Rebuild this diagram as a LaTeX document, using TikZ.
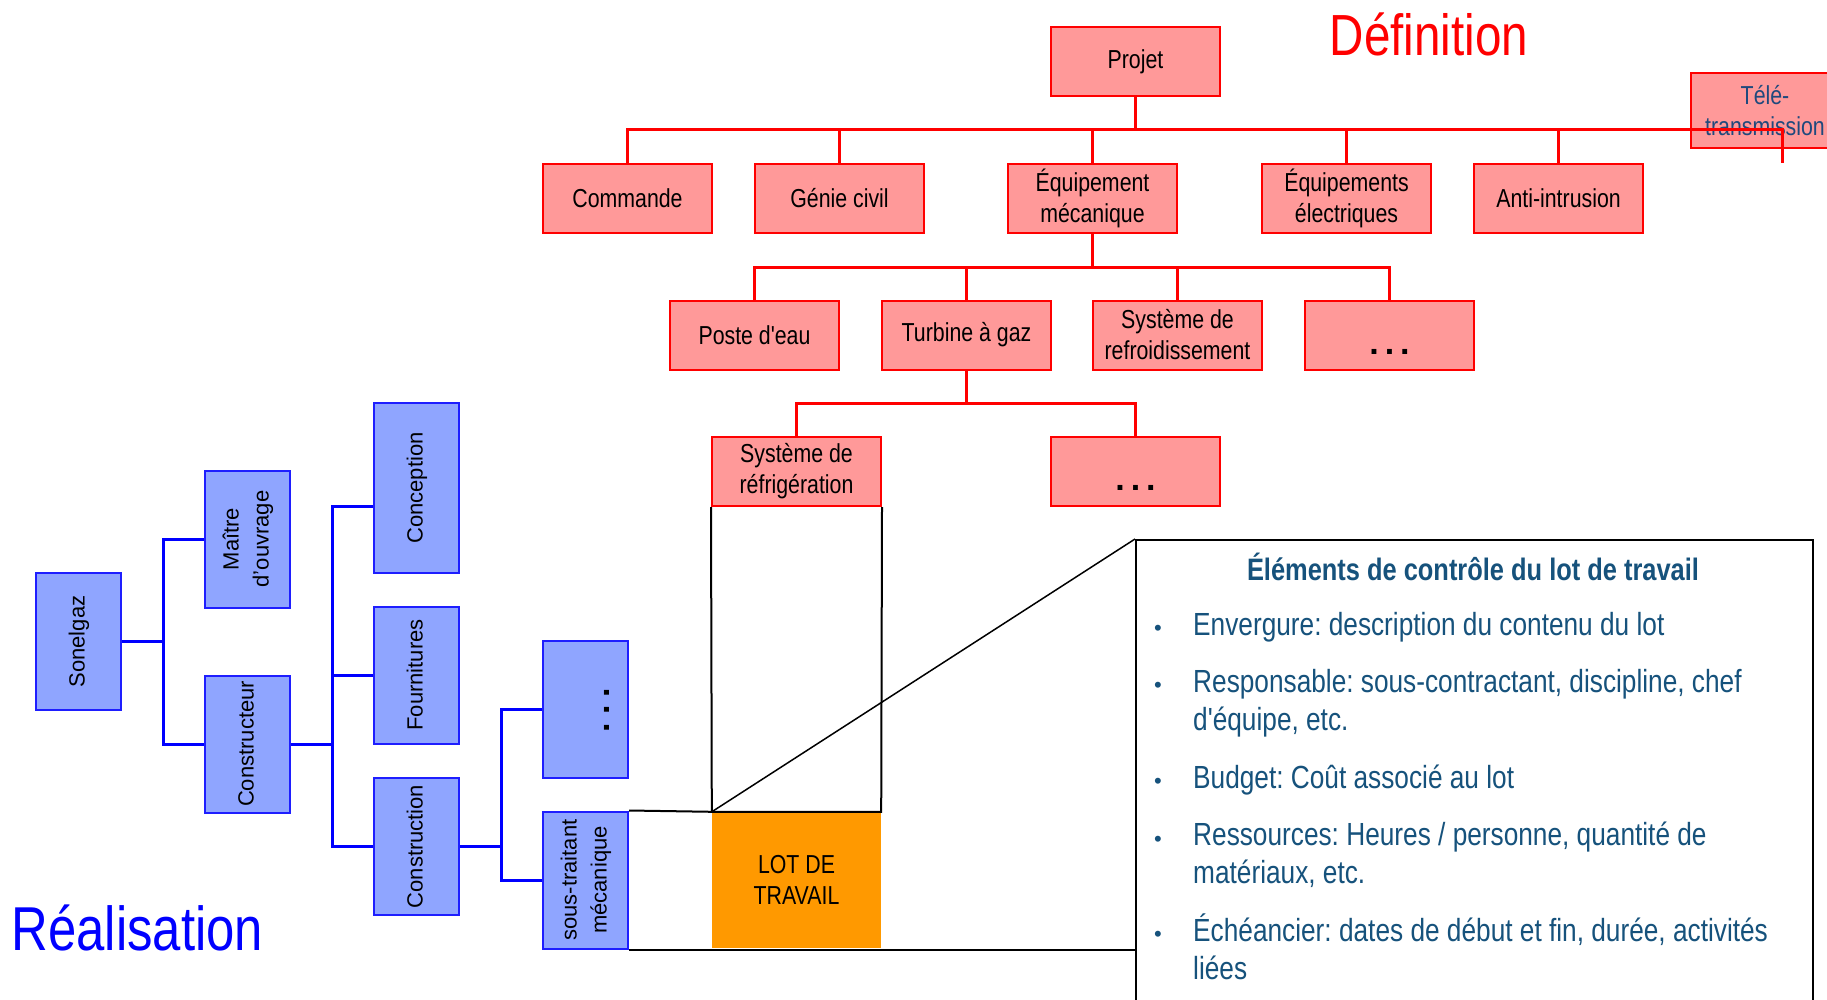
\documentclass[tikz,border=0pt]{standalone}
\usepackage{fontspec}
\usepackage{graphicx}
\setmainfont{Liberation Sans}
\newfontfamily\nar[FakeStretch=0.82]{Liberation Sans}
\frenchspacing
\definecolor{redfill}{RGB}{255,153,153}
\definecolor{bluefill}{RGB}{143,165,255}
\definecolor{bborder}{RGB}{30,30,255}
\definecolor{teleblue}{RGB}{31,73,125}
\definecolor{infoc}{RGB}{22,82,124}
\definecolor{orangefill}{RGB}{255,153,0}
\newcommand{\rottext}[1]{\rotatebox{90}{\begin{tabular}{@{}c@{}}#1\end{tabular}}}
\tikzset{
  rbox/.style={draw=red, fill=redfill, line width=2pt, minimum width=169pt, minimum height=69pt,
    inner sep=0pt, align=center, font=\nar\fontsize{26}{31}\selectfont},
  bbox/.style={draw=bborder, fill=bluefill, line width=2pt, minimum width=85pt, minimum height=137pt,
    inner sep=0pt, font=\fontsize{22}{30}\selectfont},
  rline/.style={draw=red, line width=3pt},
  bline/.style={draw=blue, line width=3pt},
  kline/.style={draw=black, line width=2pt},
  dotsr/.style={inner sep=0pt, font=\bfseries\fontsize{34}{34}\selectfont},
  item/.style={anchor=base west, inner sep=0pt, align=left, text=infoc, font=\nar\fontsize{32}{38}\selectfont},
  bul/.style={anchor=base, inner sep=0pt, text=infoc, font=\fontsize{22}{38}\selectfont},
}
\begin{document}
\begin{tikzpicture}[x=1pt,y=-1pt]
\useasboundingbox (0,0) rectangle (1827,1000);
\fill[white] (0,0) rectangle (1827,1000);
\clip (0,0) rectangle (1827,1000);

% ---- red tree (Définition)
\node[rbox] (projet) at (1135.5,62) {Projet};
\node[rbox, minimum width=148pt, minimum height=75pt, text=teleblue] (tele) at (1765,110.5) {Télé-\\transmission};
\node[rbox] (commande) at (627.5,198.5) {Commande};
\node[rbox] (genie) at (839.5,198.5) {Génie civil};
\node[rbox] (equipm) at (1092.5,198.5) {Équipement\\mécanique};
\node[rbox] (equipe) at (1346.5,198.5) {Équipements\\électriques};
\node[rbox] (anti) at (1558.5,198.5) {Anti-intrusion};

\node[rbox] (poste) at (754.5,335) {Poste d'eau};
\node[rbox] (turbine) at (966.5,335) {Turbine à gaz};
\node[rbox] (refroid) at (1177.5,335) {Système de\\refroidissement};
\node[rbox] (dotsa) at (1389.5,335) {};
\node[dotsr] (dotsatext) at (1389.5,352) {.\hspace{6pt}.\hspace{6pt}.};

\node[rbox] (refrig) at (796.5,471.5) {Système de\\réfrigération};
\node[rbox] (dotsb) at (1135.5,471.5) {};
\node[dotsr] (dotsbtext) at (1135.5,488) {.\hspace{6pt}.\hspace{6pt}.};

\coordinate (bar1) at (0,130);
\coordinate (bar2) at (0,267);
\coordinate (bar3) at (0,403);
\coordinate (telecon) at (1782,163);
\draw[rline] (commande.north) |- (telecon |- bar1) -- (telecon);
\draw[rline] (projet.south) -- (projet.south |- bar1);
\draw[rline] (genie.north) -- (genie.north |- bar1);
\draw[rline] (equipm.north) -- (equipm.north |- bar1);
\draw[rline] (equipe.north) -- (equipe.north |- bar1);
\draw[rline] (anti.north) -- (anti.north |- bar1);

\draw[rline] (poste.north) |- (dotsa.north |- bar2) -- (dotsa.north);
\draw[rline] (equipm.south) -- (equipm.south |- bar2);
\draw[rline] (turbine.north) -- (turbine.north |- bar2);
\draw[rline] (refroid.north) -- (refroid.north |- bar2);

\draw[rline] (refrig.north) |- (dotsb.north |- bar3) -- (dotsb.north);
\draw[rline] (turbine.south) -- (turbine.south |- bar3);

% ---- blue tree (Réalisation)
\node[bbox] (sonel) at (78.5,641.5) {\rottext{Sonelgaz}};
\node[bbox] (maitre) at (247.5,539) {\rottext{Maître\\d'ouvrage}};
\node[bbox] (constr) at (247.5,744) {\rottext{Constructeur}};
\node[bbox, minimum height=170pt] (concep) at (416.5,488) {\rottext{Conception}};
\node[bbox] (fourn) at (416.5,675) {\rottext{Fournitures}};
\node[bbox] (constn) at (416.5,846.5) {\rottext{Construction}};
\node[bbox] (bdots) at (585.5,709) {};
\node[dotsr] (bdotstext) at (607,710) {\rotatebox{90}{.\hspace{8pt}.\hspace{8pt}.}};
\node[bbox] (sous) at (585.5,880) {\rottext{sous-traitant\\mécanique}};

\coordinate (j1) at (163,641.5);
\coordinate (j2) at (332,744);
\coordinate (j3) at (501,846.5);
\draw[bline] (sonel.east) -- (j1);
\draw[bline] (maitre.west) -| (j1) |- (constr.west);
\draw[bline] (constr.east) -- (j2);
\draw[bline] ([yshift=-18pt]concep.west) -| (j2) |- (constn.west);
\draw[bline] (fourn.west) -- (fourn.west -| j2);
\draw[bline] (constn.east) -- (j3);
\draw[bline] (bdots.west) -| (j3) |- (sous.west);

% ---- work package and info box
\node[draw=black, line width=2pt, minimum width=677pt, minimum height=480pt, anchor=north west, inner sep=0pt] (info) at (1135,539) {};
\draw[kline] (sous.south east) -- (sous.south east -| info.west);
\node[fill=orangefill, minimum width=169pt, minimum height=136pt, inner sep=0pt, align=center,
  font=\nar\fontsize{26}{31}\selectfont] (lot) at (796.5,880) {LOT DE\\TRAVAIL};
\draw[kline] (sous.north east) -- (lot.north west);
\draw[kline] (refrig.south west) -- (lot.north west) -- (lot.north east) -- (refrig.south east);
\draw[kline, line width=1.5pt] (lot.north west) -- (info.north west);

\node[anchor=base, inner sep=0pt, text=infoc, font=\nar\bfseries\fontsize{31}{38}\selectfont] (infotitle) at (1473,580) {Éléments de contrôle du lot de travail};
\node[bul] (b1) at (1158,635) {•};
\node[item] (i1) at (1193,635) {Envergure: description du contenu du lot};
\node[bul] (b2) at (1158,692) {•};
\node[item] (i2) at (1193,730) {Responsable: sous-contractant, discipline, chef\\d'équipe, etc.};
\node[bul] (b3) at (1158,788) {•};
\node[item] (i3) at (1193,788) {Budget: Coût associé au lot};
\node[bul] (b4) at (1158,846) {•};
\node[item] (i4) at (1193,883) {Ressources: Heures / personne, quantité de\\matériaux, etc.};
\node[bul] (b5) at (1158,941) {•};
\node[item] (i5) at (1193,979) {Échéancier: dates de début et fin, durée, activités\\liées};

% ---- titles
\node[anchor=base, inner sep=0pt, text=red, font=\nar\fontsize{58}{60}\selectfont] (deftitle) at (1429,56) {Définition};
\node[anchor=base, inner sep=0pt, text=blue, font=\nar\fontsize{62}{64}\selectfont] (realtitle) at (137.5,950) {Réalisation};
\end{tikzpicture}
\end{document}
